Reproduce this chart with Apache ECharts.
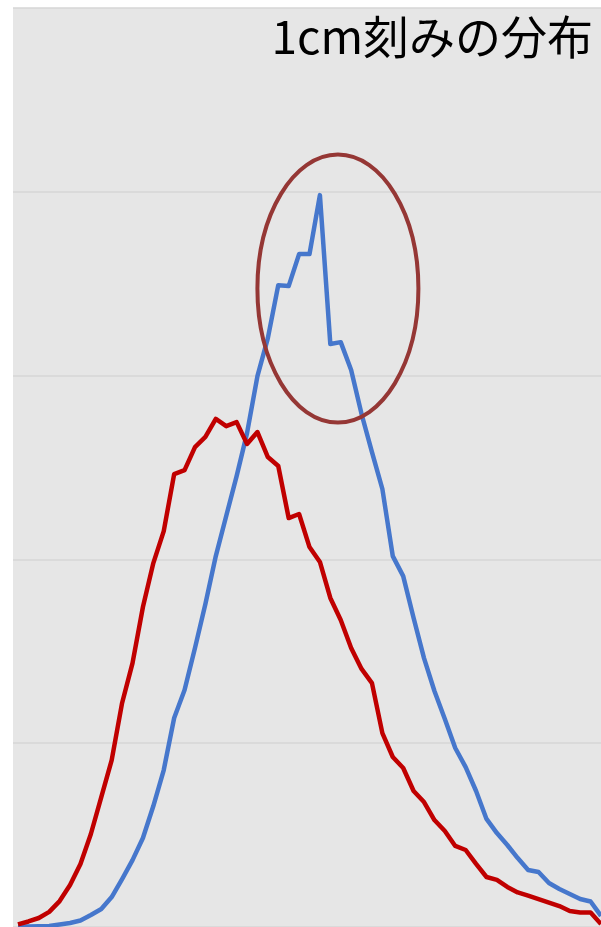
<!DOCTYPE html>
<html>
<head>
<meta charset="utf-8">
<script src="https://cdn.jsdelivr.net/npm/echarts@6/dist/echarts.min.js"></script>
<style>
  html, body { margin: 0; padding: 0; background: #ffffff; }
  #chart { width: 601px; height: 927px; }
</style>
</head>
<body>
<div id="chart"></div>
<script>
// Height categories (cm), 1cm steps
const heights = [];
for (let h = 140; h <= 196; h++) heights.push(h);

// Red series
const redValues = [14, 30, 49, 82, 141, 228, 343, 506, 707, 908,
  1219, 1436, 1741, 1980, 2154, 2464, 2486, 2611, 2666, 2764,
  2725, 2747, 2628, 2693, 2557, 2508, 2225, 2247, 2067, 1986,
  1790, 1670, 1518, 1404, 1327, 1055, 925, 865, 740, 680,
  582, 522, 441, 419, 343, 272, 256, 218, 188, 171,
  152, 133, 114, 87, 79, 79, 16];

// Blue series
const blueValues = [3, 3, 4, 5, 14, 22, 35, 65, 98, 163,
  261, 364, 484, 658, 854, 1137, 1289, 1518, 1757, 2018,
  2236, 2453, 2687, 2997, 3204, 3492, 3487, 3661, 3661, 3982,
  3172, 3182, 3030, 2791, 2584, 2383, 2018, 1909, 1681, 1463,
  1284, 1132, 974, 870, 740, 588, 511, 446, 375, 310,
  299, 239, 207, 180, 152, 139, 60];

const yTicks = [0, 1000, 2000, 3000, 4000, 5000];
const titleText = '1cm刻みの分布';

const chart = echarts.init(document.getElementById('chart'), null, { renderer: 'canvas' });

const bgRect = {
  type: 'rect',
  z: -100,
  shape: { x: 13, y: 8, width: 588, height: 919 },
  style: { fill: '#e6e6e6' },
  silent: true
};

const option = {
  animation: false,
  backgroundColor: '#ffffff',
  title: {
    text: titleText,
    right: 3,
    top: 9,
    textStyle: {
      fontFamily: '"Noto Sans CJK JP", sans-serif',
      fontSize: 46,
      fontWeight: 'normal',
      color: '#000000'
    }
  },
  grid: { left: 13, top: 8, width: 588, height: 919, show: false },
  xAxis: {
    type: 'value',
    min: 139.52,
    max: 196,
    axisLine: { show: false },
    axisTick: { show: false },
    axisLabel: { show: false },
    splitLine: { show: false }
  },
  yAxis: {
    type: 'value',
    min: yTicks[0],
    max: yTicks[yTicks.length - 1],
    interval: 1000,
    axisLine: { show: false },
    axisTick: { show: false },
    axisLabel: { show: false },
    splitLine: { show: true, lineStyle: { color: '#d6d6d6', width: 1.5 } }
  },
  graphic: [bgRect],
  series: [
    {
      type: 'line',
      name: 'red',
      data: heights.map((h, i) => [h, redValues[i]]),
      symbol: 'none',
      lineStyle: { color: '#c00000', width: 4.5, join: 'round' },
      z: 3
    },
    {
      type: 'line',
      name: 'blue',
      data: heights.map((h, i) => [h, blueValues[i]]),
      symbol: 'none',
      lineStyle: { color: '#4677cc', width: 4.5, join: 'round' },
      z: 2
    }
  ]
};
chart.setOption(option);

// Annotation ellipse around the blue peak, anchored to the data
let peakIdx = 0;
blueValues.forEach((v, i) => { if (v > blueValues[peakIdx]) peakIdx = i; });
const peakPx = chart.convertToPixel({ gridIndex: 0 }, [heights[peakIdx], blueValues[peakIdx]]);
chart.setOption({
  graphic: [
    bgRect,
    {
      type: 'ellipse',
      z: 100,
      shape: { cx: peakPx[0] + 18, cy: peakPx[1] + 93.5, rx: 80.5, ry: 134 },
      style: { fill: 'none', stroke: '#953735', lineWidth: 4 },
      silent: true
    }
  ]
});
</script>
</body>
</html>
